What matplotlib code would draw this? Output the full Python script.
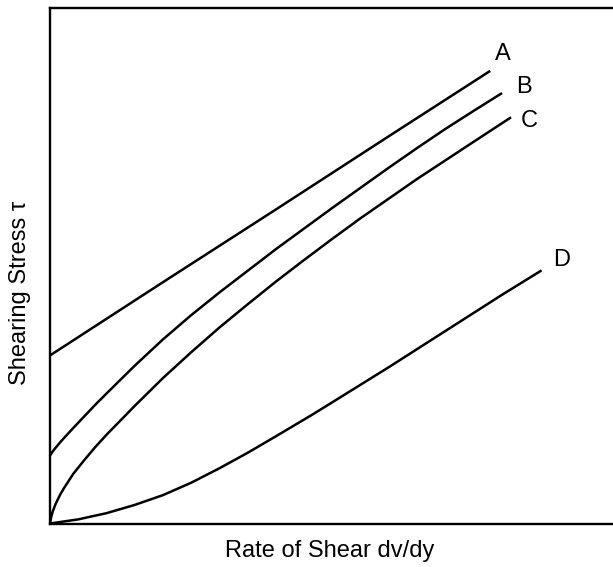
"""
Shearing stress vs rate of shear for different fluid types (A, B, C, D).
"""

import matplotlib.pyplot as plt

plt.rcParams['font.family'] = ['Liberation Sans', 'DejaVu Sans']

# values (arbitrary units)
a_x = [0.0, 2.0, 4.0, 6.0, 7.8]
a_y = [3.26, 4.68, 6.09, 7.51, 8.78]

b_x = [0.0, 0.05, 0.1, 0.2, 0.3, 0.41, 0.6, 0.8, 1.0, 1.5, 2.0, 2.5, 3.0, 3.5,
       4.0, 4.5, 5.0, 5.5, 6.0, 6.5, 7.0, 7.5, 8.01]
b_y = [1.32, 1.40, 1.47, 1.60, 1.72, 1.85, 2.07, 2.30, 2.52, 3.06, 3.57, 4.04, 4.48, 4.90,
       5.32, 5.72, 6.12, 6.51, 6.90, 7.28, 7.65, 8.00, 8.35]

c_x = [0.0, 0.02, 0.05, 0.1, 0.18, 0.25, 0.41, 0.6, 0.8, 1.0, 1.5, 2.0, 2.5, 3.0,
       3.5, 4.0, 4.5, 5.0, 5.5, 6.0, 6.5, 7.0, 7.5, 8.17]
c_y = [0.0, 0.12, 0.24, 0.38, 0.56, 0.69, 0.96, 1.22, 1.48, 1.72, 2.28, 2.82, 3.32, 3.80,
       4.25, 4.69, 5.11, 5.52, 5.92, 6.30, 6.68, 7.04, 7.40, 7.88]

d_x = [0.0, 0.5, 1.0, 1.5, 2.0, 2.5, 3.0, 3.5, 4.0, 4.63, 5.0, 5.5, 6.0, 6.5,
       7.0, 7.5, 8.0, 8.71]
d_y = [0.0, 0.08, 0.20, 0.36, 0.55, 0.79, 1.07, 1.37, 1.69, 2.10, 2.35, 2.69, 3.03, 3.38,
       3.73, 4.08, 4.43, 4.91]

labels = ['A', 'B', 'C', 'D']
label_x = [8.03, 8.40, 8.49, 9.06]
label_y = [9.11, 8.47, 7.81, 5.11]

fig = plt.figure(figsize=(6.13, 5.67), dpi=100)
ax = fig.add_axes([50 / 613, 43.5 / 567, 570 / 613, 515.5 / 567])

for xs, ys in [(a_x, a_y), (b_x, b_y), (c_x, c_y), (d_x, d_y)]:
    ax.plot(xs, ys, color='black', linewidth=1.8, solid_capstyle='butt', clip_on=False)

for lab, lx, ly in zip(labels, label_x, label_y):
    ax.text(lx, ly, lab, ha='center', va='center', fontsize=17)

ax.set_xlim(0, 10.1)
ax.set_ylim(0, 10)
ax.set_xticks([])
ax.set_yticks([])
ax.spines['right'].set_visible(False)
for side in ['left', 'top', 'bottom']:
    ax.spines[side].set_linewidth(1.7)

ax.set_xlabel('Rate of Shear dv/dy', fontsize=17)
ax.xaxis.set_label_coords((330 - 50) / 570, -(551 - 523.5) / 515.5)
ax.set_ylabel('Shearing Stress τ', fontsize=17)
ax.yaxis.set_label_coords(-(50 - 20) / 570, (523.5 - 293) / 515.5)
ax.xaxis.label.set_va('center')
ax.yaxis.label.set_va('center')

plt.savefig('out.png', dpi=100)
